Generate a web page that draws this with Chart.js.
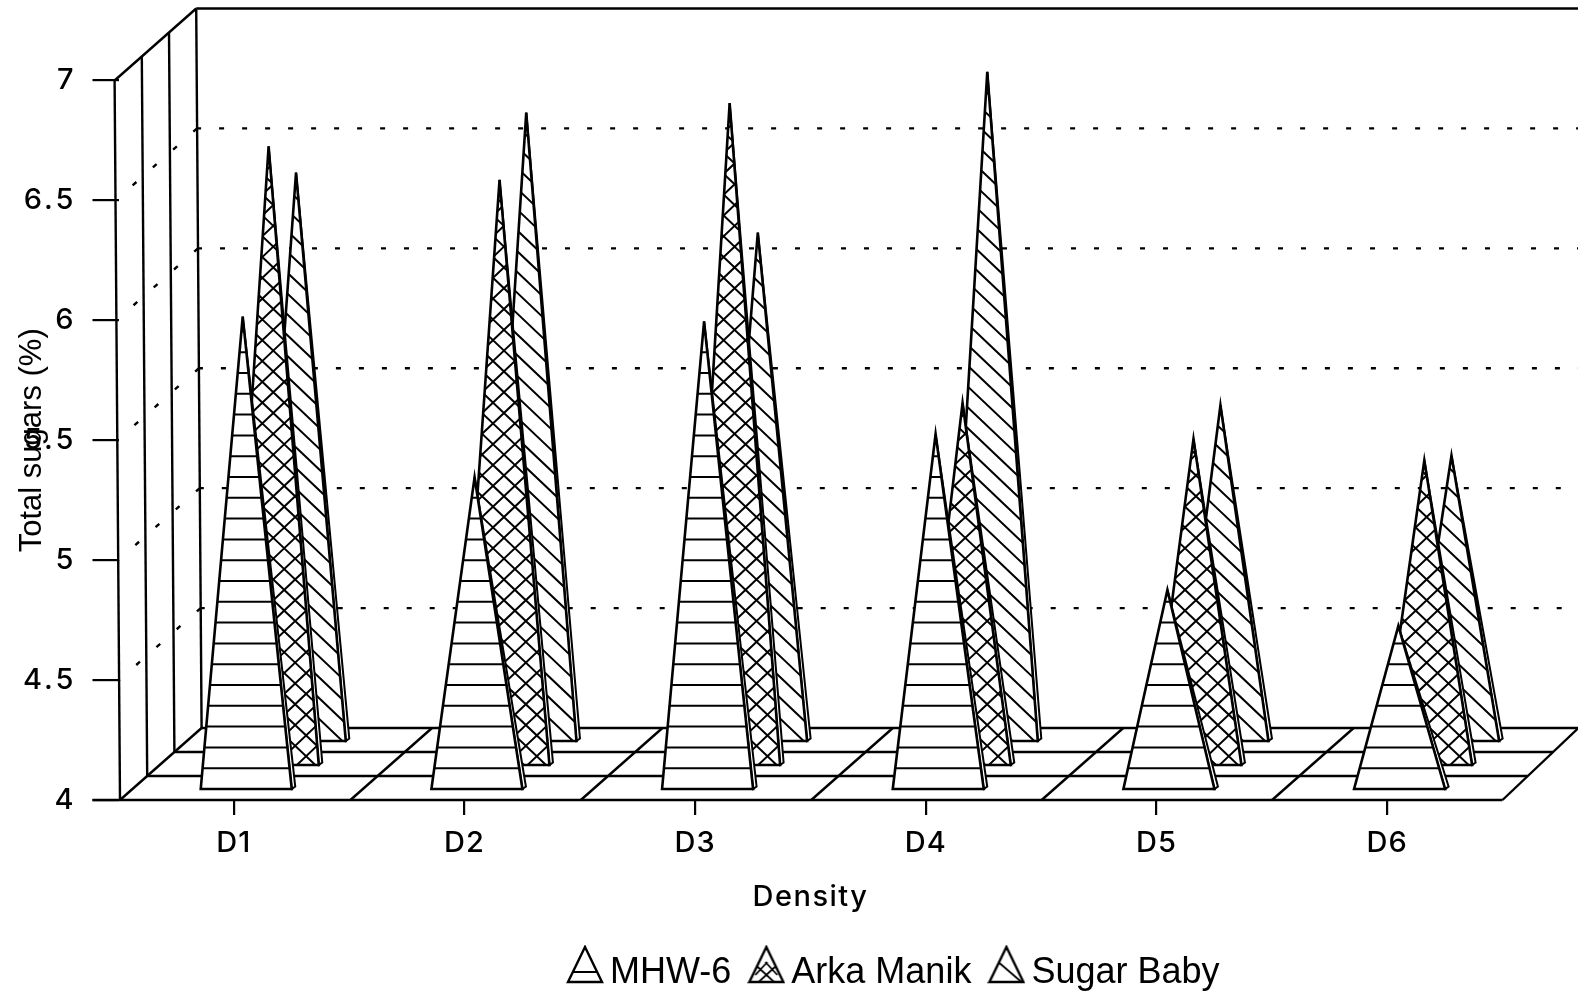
<!DOCTYPE html>
<html>
<head>
<meta charset="utf-8">
<style>html,body{margin:0;padding:0;background:#fff}canvas{display:block}</style>
<script src="https://cdn.jsdelivr.net/npm/chart.js@4/dist/chart.umd.js"></script>
</head>
<body>
<canvas id="c" width="1578" height="993"></canvas>
<script>
const categories = ["D1", "D2", "D3", "D4", "D5", "D6"];
const mhw6 = [5.97, 5.30, 5.95, 5.48, 4.83, 4.68];
const arkaManik = [6.58, 6.44, 6.76, 5.51, 5.36, 5.27];
const sugarBaby = [6.37, 6.62, 6.12, 6.79, 5.40, 5.19];
const seriesNames = ["MHW-6", "Arka Manik", "Sugar Baby"];
const yTickLabels = ["4", "4.5", "5", "5.5", "6", "6.5", "7"];
const yMin = 4, yMax = 7, yStep = 0.5;

const INK = "#000";
const ROW_DX = 27.2, ROW_DY = 24, ROWS = 3;      // depth of the 3-D box
const SHEAR = 0.0075;                            // the scanned original leans slightly
const HATCH = 20.8;
const TICK_FONT = { family: "Inter, 'DejaVu Sans'", size: 29, weight: 500 };

function drawHatch(ctx, kind, x0, x1, yTop, yBase) {
  ctx.beginPath();
  const w = x1 - x0, slope = 0.95;
  if (kind === 0) {
    for (let y = yBase - HATCH; y > yTop; y -= HATCH) { ctx.moveTo(x0 - 10, y); ctx.lineTo(x1 + 10, y); }
  } else {
    const rise = w * slope;
    for (let yc = yBase + rise; yc > yTop; yc -= HATCH) {
      // "\" family, anchored on the right edge
      ctx.moveTo(x1, yc); ctx.lineTo(x0, yc - rise);
      if (kind === 1) {
        // "/" family, anchored on the left edge
        ctx.moveTo(x0, yc); ctx.lineTo(x1, yc - rise);
      }
    }
  }
  ctx.stroke();
}

function legendIcon(kind) {
  const cv = document.createElement("canvas");
  cv.width = 38; cv.height = 56;
  const g = cv.getContext("2d");
  g.strokeStyle = INK; g.lineWidth = 2.4; g.fillStyle = "#fff";
  const path = () => { g.beginPath(); g.moveTo(19, 2); g.lineTo(36, 37); g.lineTo(2, 37); g.closePath(); };
  path(); g.fill();
  g.save(); path(); g.clip(); g.lineWidth = 1.8; g.beginPath();
  if (kind === 0) { g.moveTo(0, 27); g.lineTo(38, 27); }
  if (kind === 1) { g.moveTo(5, 17); g.lineTo(30, 40); g.moveTo(33, 17); g.lineTo(8, 40); g.moveTo(8, 30); g.lineTo(20, 17); g.moveTo(30, 30); g.lineTo(18, 17); }
  if (kind === 2) { g.moveTo(12, 18); g.lineTo(34, 37); }
  g.stroke(); g.restore();
  path(); g.stroke();
  return cv;
}

const scene = {
  id: "scene3d",
  afterLayout(chart) {
    // place the legend where the original has it
    const lg = chart.legend;
    const h = lg.height, w = lg.width;
    lg.left = 550; lg.right = lg.left + w; lg.top = 927; lg.bottom = lg.top + h;
  },
  beforeDatasetsDraw(chart) {
    const { ctx, scales: { x, y }, chartArea: a, width } = chart;
    const sh = py => (py - a.bottom) * SHEAR;
    const bx = a.left + 1.5, ex = a.right;
    const depthX = ROW_DX * ROWS, depthY = ROW_DY * ROWS;
    ctx.save();
    ctx.strokeStyle = INK; ctx.lineWidth = 2.4; ctx.lineCap = "butt";
    const line = (x1, y1, x2, y2) => { ctx.beginPath(); ctx.moveTo(x1, y1); ctx.lineTo(x2, y2); ctx.stroke(); };
    const yB = y.getPixelForValue(yMin), yT = y.getPixelForValue(yMax);
    // left wall uprights and top edge
    for (let r = 0; r <= ROWS; r++) {
      line(bx + r * ROW_DX, yB - r * ROW_DY, bx + r * ROW_DX + sh(yT), yT - r * ROW_DY);
    }
    line(bx + sh(yT), yT, bx + depthX + sh(yT), yT - depthY);
    // back wall top
    line(bx + depthX + sh(yT), yT - depthY, width, yT - depthY);
    // floor
    for (let r = 0; r <= ROWS; r++) {
      const xl = bx + r * ROW_DX, yy = yB - r * ROW_DY;
      line(r === 0 ? a.left - 26 : xl, yy, Math.min(ex + r * ROW_DX * 0.93, width), yy);
    }
    for (let k = 0; k <= categories.length; k++) {
      const fx = bx + (ex - bx) * k / categories.length;
      const dxk = depthX * (k === categories.length ? 0.93 : 1);
      line(fx, yB, fx + dxk, yB - depthY);
    }
    // dotted value lines on back and left walls
    ctx.lineWidth = 2.4;
    for (let v = yMin + yStep; v < yMax; v += yStep) {
      const py = y.getPixelForValue(v);
      const by = py - depthY, bkx = bx + depthX + sh(py);
      ctx.setLineDash([5, 18]);
      ctx.lineDashOffset = -22;
      line(bkx, by, width, by);
      ctx.setLineDash([5, 22]);
      ctx.lineDashOffset = 0;
      line(bkx, by, bx + sh(py), py);
    }
    ctx.setLineDash([]);
    // triangles, back row first
    for (let ds = chart.data.datasets.length - 1; ds >= 0; ds--) {
      const meta = chart.getDatasetMeta(ds);
      const off = 12.5 + ds * ROW_DX, baseY = yB - 11 - ds * ROW_DY;
      meta.data.forEach(el => {
        const half = el.width / 2;
        const apexY = el.y - 11 - ds * ROW_DY;
        const cx = el.x + off;
        const L = cx - half + sh(baseY), R = cx + half + sh(baseY), T = cx + sh(apexY);
        // side face
        ctx.fillStyle = "#fff"; ctx.lineWidth = 2;
        ctx.beginPath(); ctx.moveTo(T, apexY); ctx.lineTo(R + 3.5, baseY - 2.5); ctx.lineTo(R, baseY); ctx.closePath();
        ctx.fill(); ctx.stroke();
        // front face
        const face = () => { ctx.beginPath(); ctx.moveTo(T, apexY); ctx.lineTo(R, baseY); ctx.lineTo(L, baseY); ctx.closePath(); };
        face(); ctx.fill();
        ctx.save(); face(); ctx.clip(); ctx.lineWidth = 2;
        drawHatch(ctx, ds, L, R, apexY, baseY);
        ctx.restore();
        face(); ctx.lineWidth = 2.6; ctx.stroke();
      });
    }
    ctx.restore();
  }
};

function spaced(scale, method, amount) {
  if (scale["_w" + method]) return;
  scale["_w" + method] = true;
  const original = scale[method];
  scale[method] = function (...args) {
    const ctx = this.ctx;
    ctx.save(); ctx.letterSpacing = amount;
    original.apply(this, args);
    ctx.restore();
  };
}

const baseLabels = Chart.defaults.plugins.legend.labels.generateLabels;
const fill = "rgba(0,0,0,0)";

new Chart(document.getElementById("c"), {
  type: "bar",
  data: {
    labels: categories,
    datasets: [
      { label: seriesNames[0], data: mhw6, backgroundColor: fill, borderWidth: 0 },
      { label: seriesNames[1], data: arkaManik, backgroundColor: fill, borderWidth: 0 },
      { label: seriesNames[2], data: sugarBaby, backgroundColor: fill, borderWidth: 0 }
    ]
  },
  plugins: [scene],
  options: {
    responsive: false,
    animation: false,
    devicePixelRatio: 1,
    datasets: { bar: { grouped: false, barThickness: 91 } },
    layout: { padding: { top: 80.5, right: 75.5, bottom: 3, left: 0 } },
    plugins: {
      tooltip: { enabled: false },
      legend: {
        position: "bottom",
        align: "start",
        onClick: null,
        labels: {
          color: INK,
          font: { family: "'Liberation Sans'", size: 36 },
          padding: 28,
          usePointStyle: true,
          pointStyleWidth: 14,
          generateLabels(chart) {
            return baseLabels(chart).map((it, i) => ({ ...it, pointStyle: legendIcon(i), fontColor: INK }));
          }
        }
      }
    },
    scales: {
      x: {
        type: "category",
        offset: true,
        border: { display: false },
        grid: { offset: false, drawOnChartArea: false, drawTicks: true, tickLength: 15, color: INK, lineWidth: 2.2 },
        ticks: { color: INK, font: TICK_FONT, padding: 11, maxRotation: 0 },
        title: { display: true, text: "Density", color: INK, font: TICK_FONT, padding: { top: 12, bottom: 1 } },
        afterFit(s) {
          s.height = 116;
          spaced(s, "drawLabels", "1px");
          spaced(s, "drawTitle", "1.5px");
        }
      },
      y: {
        type: "linear",
        min: yMin,
        max: yMax,
        border: { display: false },
        grid: { drawOnChartArea: false, drawTicks: true, tickLength: 26, color: INK, lineWidth: 2.2 },
        ticks: {
          stepSize: yStep, color: INK, font: TICK_FONT, padding: 16,
          callback: (v, i) => yTickLabels[i]
        },
        title: { display: true, text: "Total sugars (%)", color: INK, font: { family: "'Liberation Sans'", size: 31 }, padding: { top: 14, bottom: 0 } },
        afterFit(s) {
          s.width = 118.5;
          spaced(s, "drawLabels", "3px");
        }
      }
    }
  }
});
</script>
</body>
</html>
